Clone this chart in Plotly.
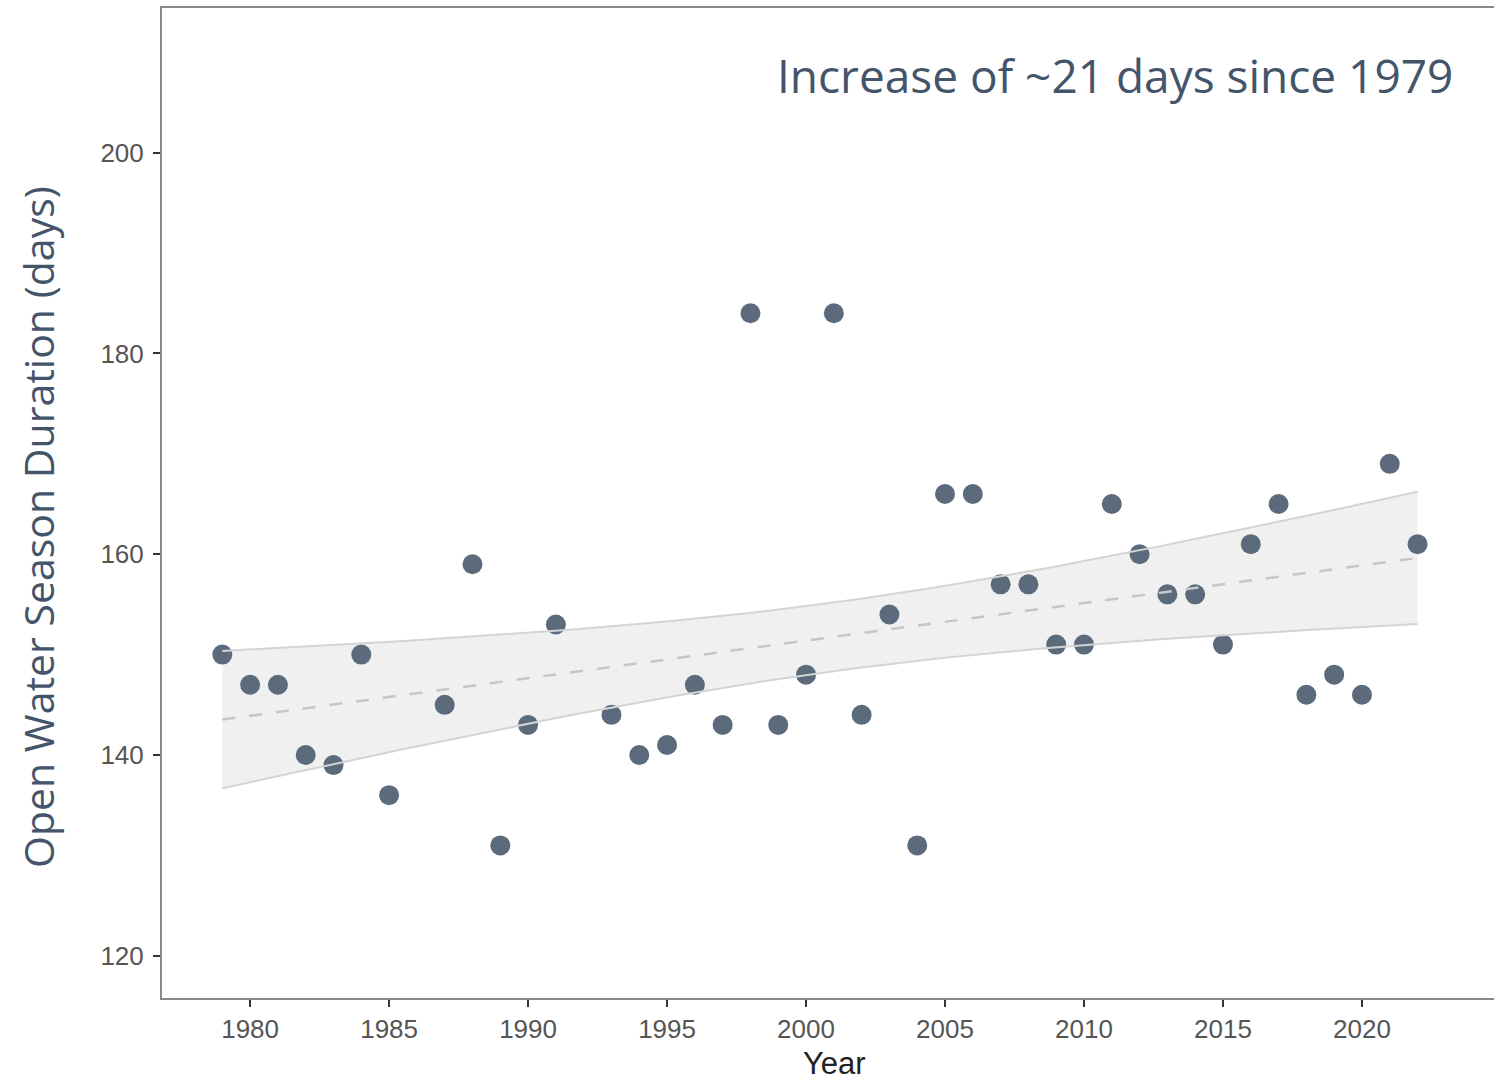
import numpy as np
import plotly.graph_objects as go

years = [1979, 1980, 1981, 1982, 1983, 1984, 1985, 1987, 1988, 1989, 1990, 1991,
         1993, 1994, 1995, 1996, 1997, 1998, 1999, 2000, 2001, 2002, 2003, 2004,
         2005, 2006, 2007, 2008, 2009, 2010, 2011, 2012, 2013, 2014, 2015, 2016,
         2017, 2018, 2019, 2020, 2021, 2022]
duration = [150, 147, 147, 140, 139, 150, 136, 145, 159, 131, 143, 153,
            144, 140, 141, 147, 143, 184, 143, 148, 184, 144, 154, 131,
            166, 166, 157, 157, 151, 151, 165, 160, 156, 156, 151, 161,
            165, 146, 148, 146, 169, 161]
y_ticks = [120, 140, 160, 180, 200]
x_ticks = [1980, 1985, 1990, 1995, 2000, 2005, 2010, 2015, 2020]

# linear fit with 95% confidence band (as geom_smooth(method="lm"))
x = np.array(years, float)
y = np.array(duration, float)
n = len(x)
b1, b0 = np.polyfit(x, y, 1)
resid = y - (b0 + b1 * x)
s = np.sqrt(np.sum(resid ** 2) / (n - 2))
xs = np.linspace(x.min(), x.max(), 80)
fit = b0 + b1 * xs
se = s * np.sqrt(1 / n + (xs - x.mean()) ** 2 / np.sum((x - x.mean()) ** 2))
tval = 2.021
upper = fit + tval * se
lower = fit - tval * se

fig = go.Figure()
fig.add_trace(go.Scatter(x=np.concatenate([xs, xs[::-1]]), y=np.concatenate([upper, lower[::-1]]),
                         fill="toself", fillcolor="#f0f0f0", line=dict(width=0),
                         hoverinfo="skip", showlegend=False))
fig.add_trace(go.Scatter(x=years, y=duration, mode="markers",
                         marker=dict(size=20, color="#5b6b7c"), showlegend=False))
fig.add_trace(go.Scatter(x=xs, y=upper, mode="lines", line=dict(color="#d4d4d4", width=2),
                         showlegend=False))
fig.add_trace(go.Scatter(x=xs, y=lower, mode="lines", line=dict(color="#d4d4d4", width=2),
                         showlegend=False))
fig.add_trace(go.Scatter(x=xs, y=fit, mode="lines",
                         line=dict(color="#c6c6c6", width=2.5, dash="13px,14px"), showlegend=False))

tickfont = dict(family="Liberation Sans, Arial", size=26, color="#555555")
fig.update_layout(
    width=1494, height=1081,
    margin=dict(l=162, r=0, t=8, b=83),
    plot_bgcolor="white", paper_bgcolor="white",
    xaxis=dict(range=[1976.83, 2024.75], tickvals=x_ticks, showgrid=False, zeroline=False,
               showline=True, linecolor="#8a8a8a", linewidth=2, mirror=True,
               ticks="outside", ticklen=7, tickcolor="#333333", tickwidth=2,
               tickfont=tickfont),
    yaxis=dict(range=[115.8, 214.4], tickvals=y_ticks, showgrid=False, zeroline=False,
               showline=True, linecolor="#8a8a8a", linewidth=2,
               ticks="outside", ticklen=7, tickcolor="#333333", tickwidth=2,
               ticklabelstandoff=4, tickfont=tickfont),
    annotations=[
        dict(text="Increase of ~21 days since 1979", xref="paper", yref="paper",
             x=0.9707, y=0.932, xanchor="right", yanchor="middle", showarrow=False,
             font=dict(family="Open Sans", size=46, color="#44546a")),
        dict(text="Open Water Season Duration (days)", xref="paper", yref="paper",
             x=-0.0931, y=0.4758, xanchor="center", yanchor="middle", textangle=-90,
             showarrow=False, font=dict(family="Open Sans", size=41, color="#44546a")),
        dict(text="Year", xref="paper", yref="paper", x=0.505, y=-0.0657,
             xanchor="center", yanchor="middle", showarrow=False,
             font=dict(family="Liberation Sans, Arial", size=31, color="#222222")),
    ],
)
fig.write_html("out.html", config={"displayModeBar": False},
               post_script="document.body.style.margin='0';document.body.style.overflow='hidden';")
